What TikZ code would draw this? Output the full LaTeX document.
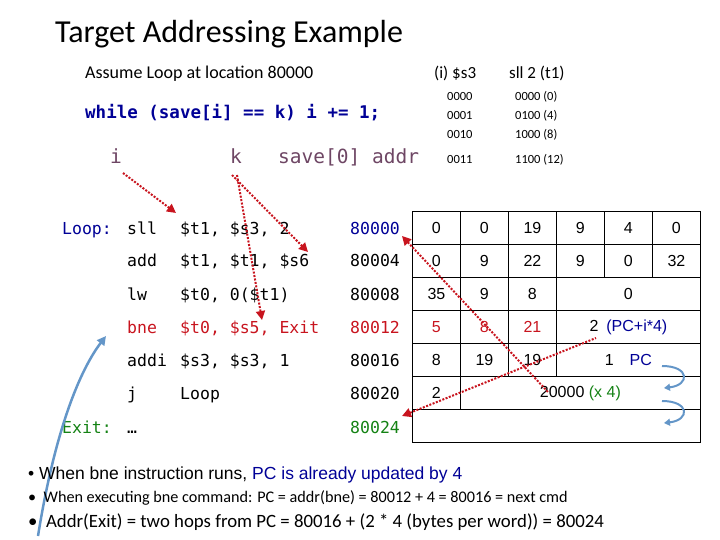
\documentclass[tikz,border=0pt]{standalone}
\usepackage{fontspec}
\setmainfont{Carlito}
\setmonofont{DejaVu Sans Mono}
\newfontfamily\arialfont{Liberation Sans}
\usetikzlibrary{arrows.meta}
\definecolor{codeblue}{RGB}{0,0,150}
\definecolor{codered}{RGB}{200,20,30}
\definecolor{codegreen}{RGB}{20,130,20}
\definecolor{codepurple}{RGB}{110,70,100}
\definecolor{pcblue}{RGB}{100,150,200}
\tikzset{
  code/.style={anchor=base west, inner sep=0pt, font=\ttfamily\fontsize{16.5}{16.5}\selectfont},
  cell/.style={draw, thick, anchor=north west, inner sep=0pt, font=\arialfont\fontsize{16}{16}\selectfont},
  redarrow/.style={draw=codered, line width=2pt, dash pattern=on 2pt off 1.5pt, -{Triangle[length=9pt,width=9pt]}},
}
\begin{document}
\begin{tikzpicture}[x=1pt,y=-1pt]
    \useasboundingbox (0,0) rectangle (720,540);

    % Title and header
    \node[anchor=base west, inner sep=0pt, font=\fontsize{32}{32}\selectfont] (title) at (55,43) {Target Addressing Example};
    \node[anchor=base west, inner sep=0pt, font=\fontsize{18}{18}\selectfont] (assume) at (85,79) {Assume Loop at location 80000};
    \node[anchor=base west, inner sep=0pt, font=\ttfamily\bfseries\fontsize{17.5}{17.5}\selectfont, text=codeblue] (while) at (85,119) {while (save[i] == k) i += 1;};

    % Variables
    \node[code, text=codepurple, font=\ttfamily\fontsize{19.5}{19.5}\selectfont] (vi) at (110,164) {i};
    \node[code, text=codepurple, font=\ttfamily\fontsize{19.5}{19.5}\selectfont] (vk) at (230,164) {k};
    \node[code, text=codepurple, font=\ttfamily\fontsize{19.5}{19.5}\selectfont] (vsave) at (278,164) {save[0] addr};

    % sll table
    \node[anchor=base west, inner sep=0pt, font=\fontsize{17}{17}\selectfont] (hs3) at (434,79) {(i) \$s3};
    \node[anchor=base west, inner sep=0pt, font=\fontsize{17}{17}\selectfont] (ht1) at (509,79) {sll 2 (t1)};
    \foreach \a/\b/\y in {0000/0000 (0)/101, 0001/0100 (4)/120, 0010/1000 (8)/139, 0011/1100 (12)/164}{
        \node[anchor=base west, inner sep=0pt, font=\fontsize{12.5}{12.5}\selectfont] at (447,\y) {\a};
        \node[anchor=base west, inner sep=0pt, font=\fontsize{12.5}{12.5}\selectfont] at (515,\y) {\b};
    }

    % Code
    \node[code, text=codeblue] (loop) at (62,234) {Loop:};
    \foreach \n/\m/\o/\y in {sll/{\$t1, \$s3, 2}/c1/234, add/{\$t1, \$t1, \$s6}/c2/266, lw/{\$t0, 0(\$t1)}/c3/300, addi/{\$s3, \$s3, 1}/c5/366, j/Loop/c6/399}{
        \node[code] at (127,\y) {\n};
        \node[code] (\o) at (180,\y) {\m};
    }
    \node[code, text=codered] at (127,333) {bne};
    \node[code, text=codered] (c4) at (180,333) {\$t0, \$s5, Exit};
    \node[code, text=codegreen] (exit) at (62,433) {Exit:};
    \node[code] at (127,433) {\dots};

    % Addresses
    \node[code, text=codeblue] (a0) at (350,234) {80000};
    \node[code] (a1) at (350,266) {80004};
    \node[code] (a2) at (350,300) {80008};
    \node[code, text=codered] (a3) at (350,333) {80012};
    \node[code] (a4) at (350,366) {80016};
    \node[code] (a5) at (350,399) {80020};
    \node[code, text=codegreen] (a6) at (350,433) {80024};

    % Instruction format table
    \foreach \r/\vals in {0/{0,0,19,9,4,0}, 1/{0,9,22,9,0,32}}
        \foreach \v [count=\c from 0] in \vals
            \node[cell, minimum width=48pt, minimum height=33pt] at (412+48*\c,211+33*\r) {\v};
    \foreach \v [count=\c from 0] in {35,9,8}
        \node[cell, minimum width=48pt, minimum height=33pt] at (412+48*\c,277) {\v};
    \node[cell, minimum width=144pt, minimum height=33pt] (f2) at (556,277) {0};
    \foreach \v [count=\c from 0] in {5,8,21}
        \node[cell, minimum width=48pt, minimum height=33pt, text=codered] at (412+48*\c,310) {\v};
    \node[cell, minimum width=144pt, minimum height=33pt] (f3) at (556,310) {2\enspace\textcolor{codeblue}{(PC+i*4)}};
    \foreach \v [count=\c from 0] in {8,19,19}
        \node[cell, minimum width=48pt, minimum height=33pt] at (412+48*\c,343) {\v};
    \node[cell, minimum width=144pt, minimum height=33pt] (f4) at (556,343) {1\quad\textcolor{codeblue}{PC}\hspace{26pt}};
    \node[cell, minimum width=48pt, minimum height=33pt] (j0) at (412,376) {2};
    \node[cell, minimum width=240pt, minimum height=33pt] (j1) at (460,376) {20000 \textcolor{codegreen}{(x 4)}\hspace{36pt}};
    \node[cell, minimum width=288pt, minimum height=33pt] (emptyrow) at (412,409) {};

    % Red dotted arrows
    \coordinate (pc1) at (548,392);
    \coordinate (pc2) at (596,338);
    \draw[redarrow] (123,173) -- (176,213);
    \draw[redarrow] (237,175) -- (262,320);
    \draw[redarrow] (232,175) -- (308,252);
    \draw[redarrow, {Triangle[length=9pt,width=9pt]}-] (402,236) -- (pc1);
    \draw[redarrow, {Triangle[length=9pt,width=9pt]}-] (402,416) -- (pc2);

    % Blue arrows
    \draw[pcblue, line width=2.5pt, -{Triangle[length=9pt,width=9pt]}] (38,536) .. controls (55,430) and (80,370) .. (106,336);
    \draw[pcblue, line width=2pt, -{Triangle[length=6pt,width=7pt]}] (662,366) .. controls (690,366) and (690,385) .. (664,388);
    \draw[pcblue, line width=2pt, -{Triangle[length=6pt,width=7pt]}] (662,401) .. controls (690,401) and (690,420) .. (664,423);

    % Bullets
    \node[anchor=base west, inner sep=0pt, font=\arialfont\fontsize{17.5}{17.5}\selectfont] (b1) at (28,479) {\textbullet\ When bne instruction runs, \textcolor{codeblue}{PC is already updated by 4}};
    \node[anchor=base west, inner sep=0pt, font=\fontsize{16.2}{16.2}\selectfont] (b2) at (28,502) {\textbullet\ \ When executing bne command: PC = addr(bne) = 80012 + 4 = 80016 = next cmd};
    \node[anchor=base west, inner sep=0pt, font=\fontsize{18.8}{18.8}\selectfont] (b3) at (28,527) {\textbullet\ \ Addr(Exit) = two hops from PC = 80016 + (2 * 4 (bytes per word)) = 80024};
\end{tikzpicture}
\end{document}
